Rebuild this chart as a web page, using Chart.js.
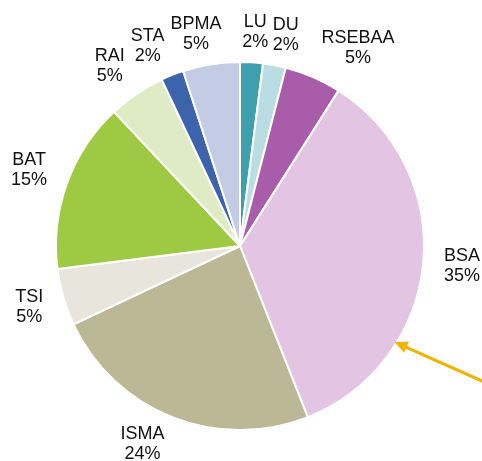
<!DOCTYPE html>
<html>
<head>
<meta charset="utf-8">
<script src="https://cdn.jsdelivr.net/npm/chart.js@4"></script>
<style>
  html, body { margin: 0; padding: 0; background: #fff; }
  #wrap { width: 482px; height: 461px; }
</style>
</head>
<body>
<div id="wrap"><canvas id="sharechart"></canvas></div>
<script>
var categories = ["LU", "DU", "RSEBAA", "BSA", "ISMA", "TSI", "BAT", "RAI", "STA", "BPMA"];
var shares = [2, 2, 5, 35, 24, 5, 15, 5, 2, 5];
var sliceColors = ["#3fa0ad", "#b9dde2", "#a95ca9", "#e3c5e3", "#bcb794",
                   "#e7e5dc", "#9dca42", "#dfebc5", "#3c63ac", "#c2cde5"];
var highlighted = "BSA";

function clamp(v) { return Math.max(-1, Math.min(1, v)); }

// names and percentages outside each slice
var outsideLabels = {
    id: "outsideLabels",
    afterDatasetsDraw: function (chart) {
        var ctx = chart.ctx;
        var meta = chart.getDatasetMeta(0);
        ctx.save();
        ctx.font = "18px 'Liberation Sans', Arial, sans-serif";
        ctx.fillStyle = "#111111";
        ctx.textAlign = "center";
        ctx.textBaseline = "middle";
        meta.data.forEach(function (arc, i) {
            var p = arc.getProps(["x", "y", "startAngle", "endAngle", "outerRadius"], true);
            var mid = (p.startAngle + p.endAngle) / 2;
            var dx = Math.cos(mid), dy = Math.sin(mid);
            var r = p.outerRadius + 11;
            var lines = [categories[i], shares[i] + "%"];
            var w = Math.max(ctx.measureText(lines[0]).width, ctx.measureText(lines[1]).width);
            var h = 36;
            var cx = p.x + r * dx + clamp(3 * dx) * w / 2 + 10 * dx;
            var cy = p.y + r * dy + clamp(1.5 * dy) * h / 2 - 1;
            ctx.fillText(lines[0], cx, cy - 10);
            ctx.fillText(lines[1], cx, cy + 10);
        });
        ctx.restore();
    }
};

// gold arrow pointing at the highlighted slice
var pointerArrow = {
    id: "pointerArrow",
    afterDatasetsDraw: function (chart) {
        var ctx = chart.ctx;
        var arc = chart.getDatasetMeta(0).data[categories.indexOf(highlighted)];
        var p = arc.getProps(["x", "y", "startAngle", "endAngle", "outerRadius"], true);
        var a = p.startAngle + 0.71 * (p.endAngle - p.startAngle);
        var tipX = p.x + (p.outerRadius - 2) * Math.cos(a);
        var tipY = p.y + (p.outerRadius - 2) * Math.sin(a);
        var dir = 24 * Math.PI / 180;
        var ux = Math.cos(dir), uy = Math.sin(dir);
        ctx.save();
        ctx.strokeStyle = "#f0b400";
        ctx.fillStyle = "#f0b400";
        ctx.lineWidth = 3;
        ctx.beginPath();
        ctx.moveTo(tipX + 8 * ux, tipY + 8 * uy);
        ctx.lineTo(tipX + 110 * ux, tipY + 110 * uy);
        ctx.stroke();
        ctx.beginPath();
        ctx.moveTo(tipX, tipY);
        ctx.lineTo(tipX + 13 * ux - 6 * uy, tipY + 13 * uy + 6 * ux);
        ctx.lineTo(tipX + 13 * ux + 6 * uy, tipY + 13 * uy - 6 * ux);
        ctx.closePath();
        ctx.fill();
        ctx.restore();
    }
};

var config = {
    type: "pie",
    data: {
        labels: categories,
        datasets: [{
            data: shares,
            backgroundColor: sliceColors,
            borderColor: "#ffffff",
            borderWidth: 2
        }]
    },
    options: {
        responsive: true,
        maintainAspectRatio: false,
        animation: false,
        layout: { padding: { left: 55, right: 57, top: 61, bottom: 30 } },
        plugins: {
            legend: { display: false },
            tooltip: { enabled: false }
        }
    },
    plugins: [outsideLabels, pointerArrow]
};
var sharechart = new Chart(document.getElementById("sharechart"), config);
</script>
</body>
</html>
